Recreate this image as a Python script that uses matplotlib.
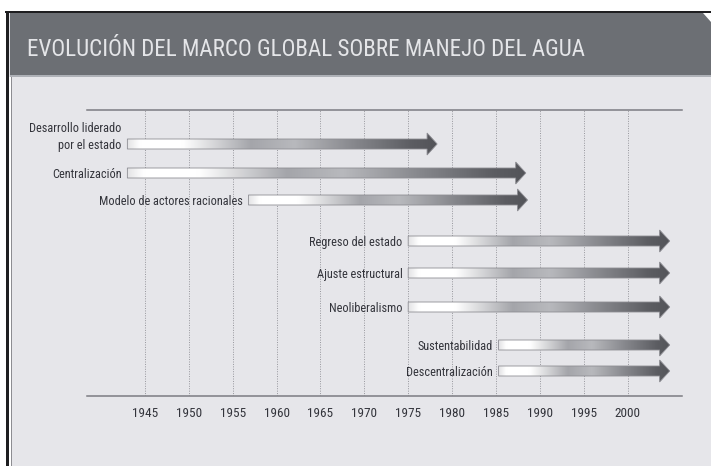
import numpy as np
import matplotlib
matplotlib.use("Agg")
import matplotlib.pyplot as plt
from matplotlib import font_manager
from matplotlib.colors import LinearSegmentedColormap
from matplotlib.patches import Polygon, Rectangle

# pick a narrow font if one is around, the original uses a condensed face
names = {f.name for f in font_manager.fontManager.ttflist}
narrow = [n for n in ["Liberation Sans Narrow", "DejaVu Sans Condensed",
                      "Roboto Condensed", "Open Sans Condensed"] if n in names]
plt.rcParams["font.family"] = narrow[:1] + ["DejaVu Sans"]

title = "EVOLUCIÓN DEL MARCO GLOBAL SOBRE MANEJO DEL AGUA"

labels = ["Desarrollo liderado\npor el estado", "Centralización",
          "Modelo de actores racionales", "Regreso del estado",
          "Ajuste estructural", "Neoliberalismo", "Sustentabilidad",
          "Descentralización"]
start_year = [1943, 1943, 1956.8, 1975, 1975, 1975, 1985.3, 1985.3]
end_year = [1978.3, 1988.4, 1988.6, 2004.8, 2004.8, 2004.8, 2004.8, 2004.8]
tick_years = [1945, 1950, 1955, 1960, 1965, 1970, 1975, 1980, 1985, 1990, 1995, 2000]

# vertical position of each row (pixels from top of the image)
row_y = [144, 173, 200, 241, 273, 307, 345, 371]

bg_col = "#e6e6ea"
band_col = "#6c6f74"
txt_col = "#33343b"

fig = plt.figure(figsize=(7.11, 4.66), dpi=100)
fig.patch.set_facecolor("white")

# frame, title band etc, drawn in pixel coords
bg = fig.add_axes([0, 0, 1, 1])
bg.set_xlim(0, 711)
bg.set_ylim(466, 0)
bg.axis("off")
bg.add_patch(Rectangle((9, 12), 702, 454, color=bg_col, lw=0))
bg.add_patch(Rectangle((10, 13), 701, 62, color=band_col, lw=0))
bg.add_patch(Rectangle((10, 75), 701, 2, color="#aeb1b7", lw=0))
bg.add_patch(Rectangle((5, 11), 706, 2.2, color="#1e1e20", lw=0))
bg.add_patch(Rectangle((5.7, 11), 3.3, 455, color="#1e1e20", lw=0))
bg.add_patch(Rectangle((9, 77), 2, 389, color="white", lw=0))
bg.add_patch(Rectangle((11, 77), 1.3, 389, color="#8d8d92", lw=0))
bg.add_patch(Polygon([(703, 13), (711, 13), (711, 22)], closed=True, color="white", lw=0))

t = bg.text(27, 56, title, color="#e4e5e8", ha="left", va="baseline", fontsize=20)
fig.canvas.draw()
w = t.get_window_extent(fig.canvas.get_renderer()).width
t.set_fontsize(20 * 558 / w)

ax = fig.add_axes([87 / 711, 70 / 466, 595 / 711, 286 / 466])
ax.set_facecolor("none")

cmap = LinearSegmentedColormap.from_list("arrow", [
    (0.0, "#e4e4e6"), (0.04, "#ffffff"), (0.18, "#ffffff"), (0.4, "#a4a5aa"),
    (0.54, "#b8b9bd"), (0.74, "#85868b"), (0.92, "#5c5d62"), (1.0, "#535459")])
grad = np.linspace(0, 1, 256).reshape(1, -1)

h = 5        # half shaft height, px
H = 11       # half head height, px
head = 1.15  # head length in years

for lab, x0, x1, y in zip(labels, start_year, end_year, row_y):
    xb = x1 - head
    pts = [(x0, y - h), (xb, y - h), (xb, y - H), (x1, y), (xb, y + H),
           (xb, y + h), (x0, y + h)]
    poly = Polygon(pts, closed=True, facecolor="none", edgecolor="#8e8e94",
                   lw=0.6, zorder=3)
    ax.add_patch(poly)
    im = ax.imshow(grad, cmap=cmap, extent=(x0, x1, y + H, y - H),
                   aspect="auto", interpolation="bicubic", zorder=2)
    im.set_clip_path(poly)
    ax.annotate(lab, xy=(x0, y), xytext=(-4, -3.3), textcoords="offset points",
                ha="right", va="baseline", fontsize=8.8, color=txt_col,
                linespacing=1.4)

ax.set_xlim(1938.4, 2006.2)
ax.set_ylim(396, 110)
ax.set_xticks(tick_years)
ax.set_yticks([])
ax.tick_params(axis="x", length=0, pad=8, labelsize=9.5, labelcolor=txt_col)
ax.grid(axis="x", color="#96969c", linestyle=(0, (1, 1.5)), lw=0.7)
ax.set_axisbelow(True)
for s in ["left", "right"]:
    ax.spines[s].set_visible(False)
for s in ["top", "bottom"]:
    ax.spines[s].set_color("#7c7c82")
    ax.spines[s].set_linewidth(1.1)

fig.savefig("out.png", dpi=100, facecolor=fig.get_facecolor())
